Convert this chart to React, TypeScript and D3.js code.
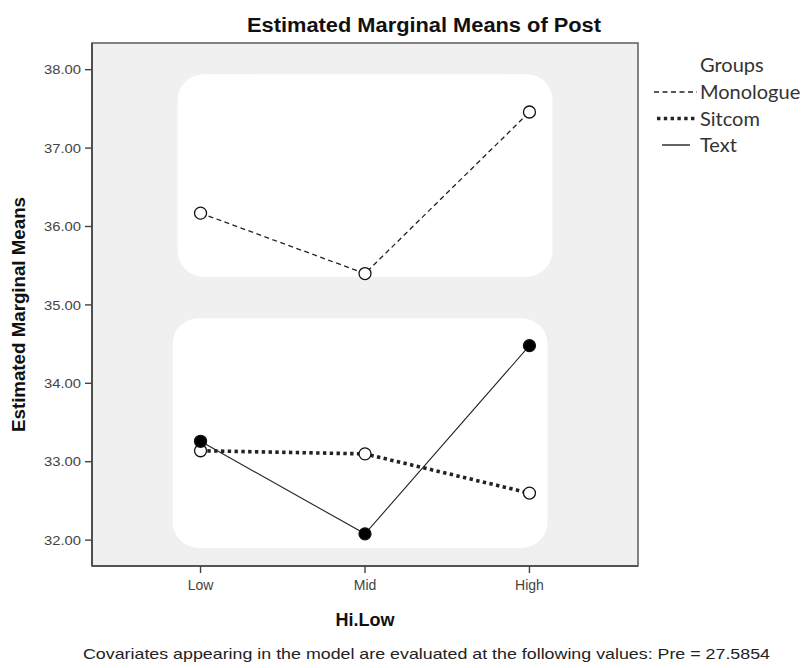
import * as React from 'react';
import * as d3 from 'd3';

// Hi.Low levels and group means
const levels = ["Low", "Mid", "High"];
const groups = ["Monologue", "Sitcom", "Text"];
const monologue = [36.17, 35.40, 37.46];
const sitcom = [33.14, 33.10, 32.60];
const text = [33.26, 32.08, 34.48];
const yTicks = [32, 33, 34, 35, 36, 37, 38];
const yDomain = [31.67, 38.34];

// white rounded backdrops that SPSS drew behind the line groups: [x0, x1] in steps, [y0, y1] in data units
const panels = [
    { dx: [-0.14, 0.14], dy: [35.36, 37.94] },
    { dx: [-0.17, 0.11], dy: [31.90, 34.83] },
];

const W = 805, H = 668;
const plot = { left: 92, top: 43, right: 638, bottom: 566 };

const lineStyle = {
    Monologue: { width: 1.3, dash: "5,3.5", filled: false },
    Sitcom: { width: 3.6, dash: "3.4,3.4", filled: false },
    Text: { width: 1.1, dash: null, filled: true },
};

export default function App() {
    const x = d3.scalePoint().domain(levels).range([plot.left, plot.right]).padding(0.66);
    const y = d3.scaleLinear().domain(yDomain).range([plot.bottom, plot.top]);
    const step = x.step();
    const series = [
        { name: "Monologue", values: monologue },
        { name: "Sitcom", values: sitcom },
        { name: "Text", values: text },
    ];
    const line = d3.line<number>()
        .x((d, i) => x(levels[i]) as number)
        .y(d => y(d));

    const axisFont = "'Liberation Sans', Arial, sans-serif";

    return (
        <svg width={W} height={H} style={{ position: "absolute", left: 0, top: 0, background: "#fff" }}>
            <text x={424} y={32} textAnchor="middle" fontFamily={axisFont} fontWeight="bold" fontSize={19.5} fill="#111"
                  textLength={354} lengthAdjust="spacingAndGlyphs">
                Estimated Marginal Means of Post
            </text>

            <rect x={plot.left} y={plot.top} width={plot.right - plot.left} height={plot.bottom - plot.top}
                  fill="#f0f0f0" stroke="#666" strokeWidth={1.6}/>

            {panels.map((p, i) => {
                const x0 = (x(levels[0]) as number) + p.dx[0] * step;
                const x1 = (x(levels[levels.length - 1]) as number) + p.dx[1] * step;
                return <rect key={i} x={x0} y={y(p.dy[1])} width={x1 - x0} height={y(p.dy[0]) - y(p.dy[1])}
                             rx={26} ry={26} fill="#fff"/>;
            })}

            {/* y axis */}
            <line x1={plot.left} x2={plot.left} y1={plot.top} y2={plot.bottom} stroke="#444" strokeWidth={1.6}/>
            {yTicks.map(t => (
                <g key={t} transform={`translate(${plot.left},${y(t)})`}>
                    <line x1={-7} x2={0} stroke="#444" strokeWidth={1.4}/>
                    <text x={-11} dy="0.35em" textAnchor="end" fontFamily={axisFont} fontSize={13.5} fill="#444"
                          textLength={37} lengthAdjust="spacingAndGlyphs">
                        {d3.format(".2f")(t)}
                    </text>
                </g>
            ))}
            <text transform={`translate(25,${(plot.top + plot.bottom) / 2 + 10}) rotate(-90)`} textAnchor="middle"
                  fontFamily={axisFont} fontWeight="bold" fontSize={17.5} fill="#111"
                  textLength={235} lengthAdjust="spacingAndGlyphs">
                Estimated Marginal Means
            </text>

            {/* x axis */}
            <line x1={plot.left} x2={plot.right} y1={plot.bottom} y2={plot.bottom} stroke="#444" strokeWidth={1.6}/>
            {levels.map(l => (
                <g key={l} transform={`translate(${x(l)},${plot.bottom})`}>
                    <line y1={0} y2={7} stroke="#444" strokeWidth={1.4}/>
                    <text y={24} textAnchor="middle" fontFamily={axisFont} fontSize={14} fill="#444">{l}</text>
                </g>
            ))}
            <text x={(plot.left + plot.right) / 2} y={626} textAnchor="middle" fontFamily={axisFont}
                  fontWeight="bold" fontSize={18} fill="#111">Hi.Low</text>

            {/* lines and markers */}
            {series.map(s => {
                const st = lineStyle[s.name];
                return (
                    <g key={s.name}>
                        <path d={line(s.values) as string} fill="none" stroke="#222" strokeWidth={st.width}
                              strokeDasharray={st.dash ?? undefined}/>
                        {s.values.map((v, i) => (
                            <circle key={i} cx={x(levels[i])} cy={y(v)} r={6}
                                    fill={st.filled ? "#000" : "#fff"} stroke="#111" strokeWidth={1.3}/>
                        ))}
                    </g>
                );
            })}

            {/* legend */}
            <g fontFamily="Lato, 'Open Sans', sans-serif" fontSize={20} fill="#333">
                <text x={700} y={65} dy="0.35em">Groups</text>
                {groups.map((g, i) => {
                    const st = lineStyle[g];
                    const cy = 92 + i * 26.5;
                    const x0 = g === "Monologue" ? 654 : g === "Sitcom" ? 657 : 662;
                    const x1 = g === "Text" ? 690 : 697;
                    return (
                        <g key={g}>
                            <line x1={x0} x2={x1} y1={cy} y2={cy} stroke="#222" strokeWidth={st.width === 3.6 ? 3.4 : 1.4}
                                  strokeDasharray={st.dash ?? undefined}/>
                            <text x={700} y={cy} dy="0.35em">{g}</text>
                        </g>
                    );
                })}
            </g>

            <text x={83} y={659} fontFamily="'Liberation Sans Narrow', 'Liberation Sans', sans-serif" fontSize={15}
                  fill="#222" textLength={687} lengthAdjust="spacingAndGlyphs">
                Covariates appearing in the model are evaluated at the following values: Pre = 27.5854
            </text>
        </svg>
    );
}
